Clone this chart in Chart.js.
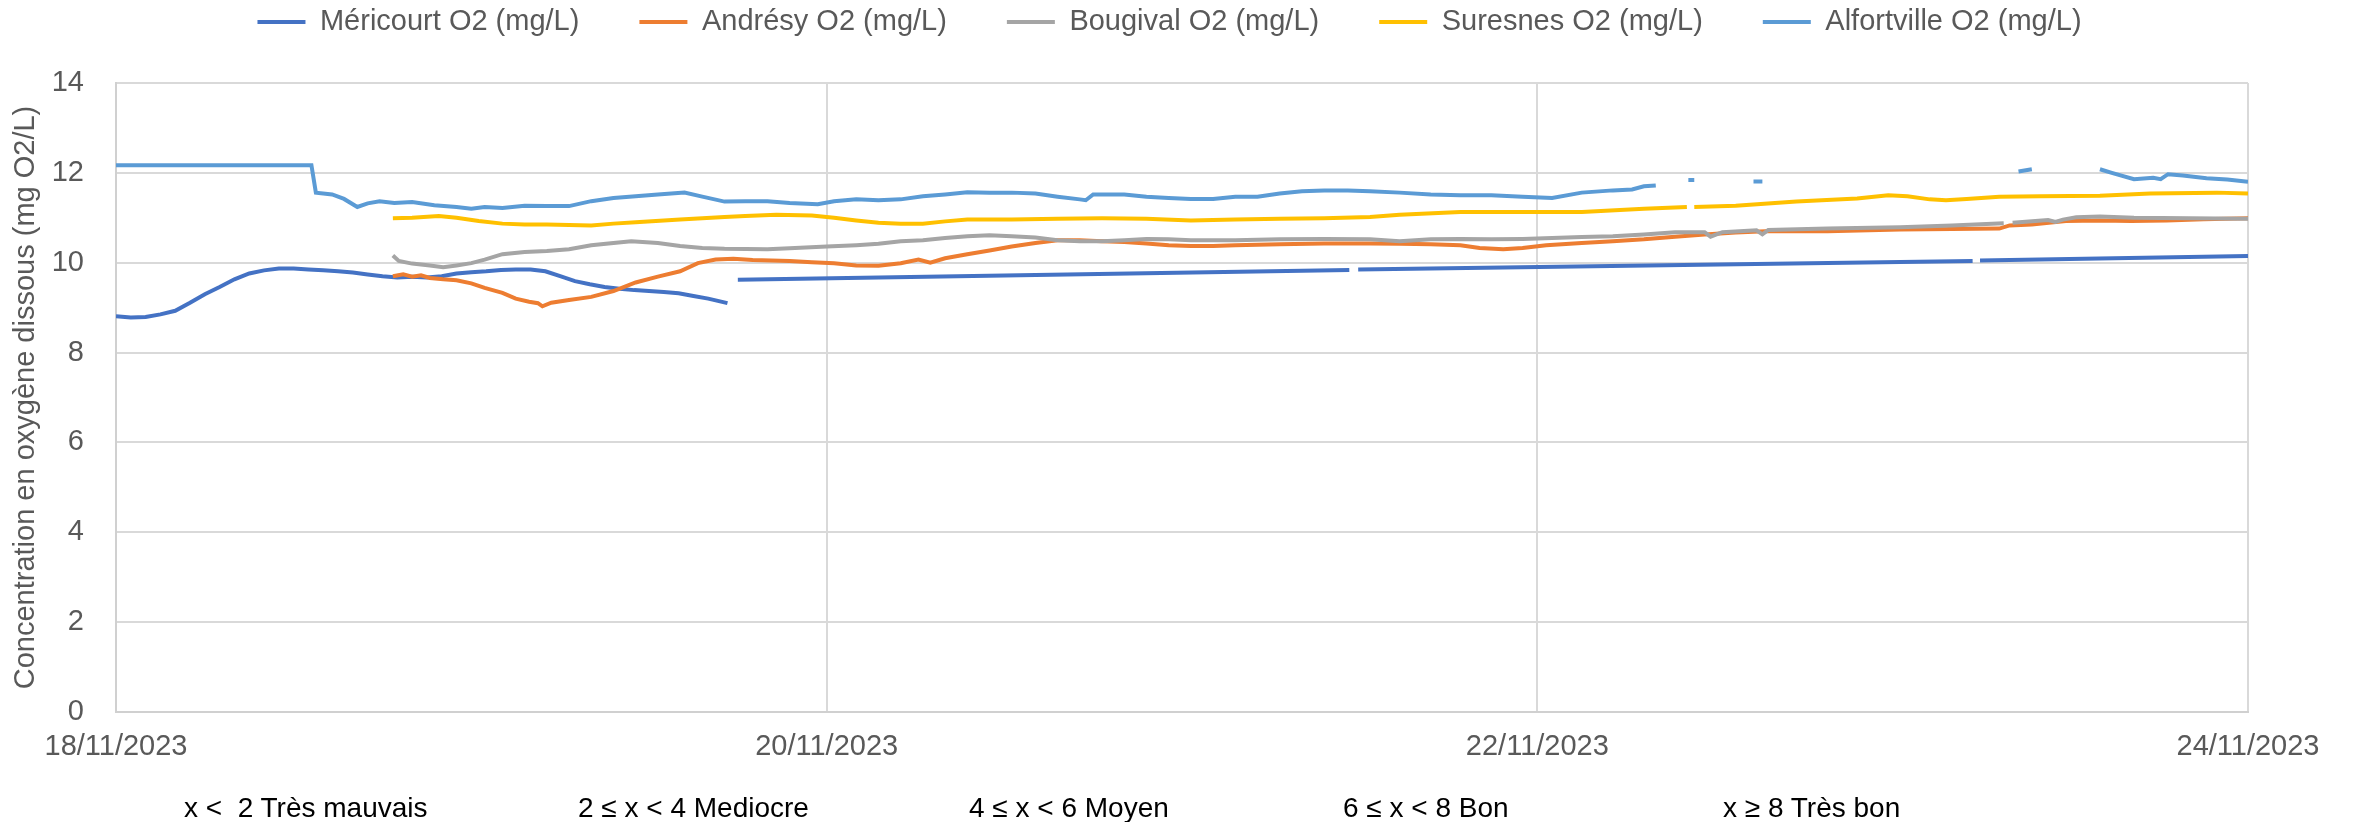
<!DOCTYPE html>
<html>
<head>
<meta charset="utf-8">
<script src="https://cdn.jsdelivr.net/npm/chart.js@4.4.0/dist/chart.umd.min.js"></script>
<style>
  html, body { margin: 0; padding: 0; background: #fff; }
  #wrap { position: relative; width: 2356px; height: 822px; }
  .classe { position: absolute; top: 794px; font: 28px 'Liberation Sans', Arial, sans-serif; line-height: 1; color: #000; white-space: pre; }
</style>
</head>
<body>
<div id="wrap">
  <canvas id="o2Chart" width="2356" height="822"></canvas>
  <span class="classe" style="left:184px">x &lt;  2 Très mauvais</span>
  <span class="classe" style="left:578px">2 ≤ x &lt; 4 Mediocre</span>
  <span class="classe" style="left:969px">4 ≤ x &lt; 6 Moyen</span>
  <span class="classe" style="left:1343px">6 ≤ x &lt; 8 Bon</span>
  <span class="classe" style="left:1723px">x ≥ 8 Très bon</span>
</div>
<script>
// x = heures depuis le 18/11/2023 00:00
const tickLabels = ['18/11/2023', '20/11/2023', '22/11/2023', '24/11/2023'];

const mericourtHours = [0, 1, 2, 3, 4, 5, 6, 7, 8, 9, 10, 11, 12, 13, 14, 15, 16, 17, 18, 19, 20,
  21, 22, 23, 24, 25, 26, 27, 28, 29, 30, 31, 32, 33, 34, 35, 36, 37, 38, 39, 40, 41.3,
  41.65, 42, 83.3, 83.6, 83.9, 125.4, 125.65, 125.9, 144];
const mericourtO2 = [8.81, 8.78, 8.79, 8.85, 8.93, 9.11, 9.30, 9.46, 9.63, 9.76, 9.83, 9.87, 9.87,
  9.85, 9.83, 9.81, 9.78, 9.74, 9.70, 9.67, 9.69, 9.67, 9.70, 9.76, 9.79, 9.81, 9.84, 9.85, 9.85,
  9.81, 9.70, 9.59, 9.52, 9.46, 9.42, 9.39, 9.37, 9.35, 9.32, 9.26, 9.20, 9.10,
  null, 9.62, 9.84, null, 9.85, 10.04, null, 10.05, 10.15];

const andresyHours = [18.7, 19.4, 20, 20.6, 21.2, 22.1, 23, 24, 24.9, 26.1, 27, 27.9, 28.5, 28.8,
  29.4, 30.6, 32.1, 33.6, 35.1, 36.6, 38.1, 39.3, 40.5, 41.7, 43, 45.5, 47, 48.5, 50, 51.5, 53,
  54.2, 55, 56, 57.5, 59, 60.5, 62.1, 63.6, 65.1, 66.6, 68.1, 69.6, 71.1, 72.6, 74.1, 75.6, 78.6,
  81.6, 84.7, 86.7, 88.8, 90.8, 92.1, 93.7, 95, 96.6, 99, 101.1, 103.2, 105.3, 107.3, 109.4,
  111.4, 115.6, 120.5, 124, 127.2, 127.9, 129.4, 131.7, 134, 136.1, 138.5, 141, 144];
const andresyO2 = [9.70, 9.74, 9.69, 9.72, 9.66, 9.63, 9.61, 9.54, 9.44, 9.33, 9.20, 9.13, 9.10,
  9.03, 9.11, 9.17, 9.24, 9.37, 9.56, 9.69, 9.81, 9.99, 10.07, 10.09, 10.06, 10.04, 10.01, 9.99,
  9.94, 9.93, 9.99, 10.07, 10.00, 10.10, 10.19, 10.27, 10.36, 10.44, 10.50, 10.50, 10.48, 10.46,
  10.43, 10.39, 10.37, 10.37, 10.39, 10.41, 10.43, 10.43, 10.42, 10.41, 10.39, 10.33, 10.30,
  10.33, 10.39, 10.44, 10.48, 10.52, 10.58, 10.63, 10.67, 10.70, 10.70, 10.74, 10.75, 10.76,
  10.83, 10.85, 10.93, 10.94, 10.93, 10.94, 10.97, 10.99];

const bougivalHours = [18.7, 19.1, 20, 21.2, 22.1, 23, 24, 24.9, 26.1, 27.6, 29.1, 30.6, 32.1, 33.6,
  34.8, 36.6, 38.1, 39.6, 41.1, 44, 45.5, 48, 50, 51.5, 53, 54.5, 56, 57.5, 59, 60.5, 62.1, 63.6,
  65.1, 66.6, 68.1, 69.6, 71.1, 72.6, 75.6, 78.6, 81.6, 84.7, 86.7, 88.8, 90.8, 92.9, 95, 97, 99,
  101.1, 103.2, 105.3, 107.3, 107.7, 108.5, 110.8, 111.2, 111.6, 115.6, 120.5, 124, 127.5,
  127.8, 128.1, 130.5, 131, 131.5, 132.4, 134, 136.3, 140, 144];
const bougivalO2 = [10.16, 10.04, 9.98, 9.94, 9.90, 9.94, 9.99, 10.07, 10.19, 10.24, 10.26, 10.30,
  10.39, 10.44, 10.48, 10.44, 10.37, 10.33, 10.31, 10.30, 10.32, 10.36, 10.39, 10.42, 10.48,
  10.50, 10.55, 10.59, 10.61, 10.59, 10.56, 10.50, 10.48, 10.48, 10.50, 10.53, 10.52, 10.50,
  10.50, 10.52, 10.53, 10.52, 10.48, 10.52, 10.53, 10.52, 10.53, 10.55, 10.57, 10.59, 10.63,
  10.68, 10.68, 10.58, 10.68, 10.72, 10.63, 10.73, 10.76, 10.79, 10.83, 10.88,
  null, 10.89, 10.95, 10.91, 10.96, 11.01, 11.03, 11.00, 10.99, 10.98];

const suresnesHours = [18.7, 20, 21.8, 23, 24.5, 26.1, 27.6, 29.1, 30.6, 32.1, 33.6, 35.1, 38.1,
  41.1, 42.5, 44.6, 47, 48.5, 50, 51.5, 53, 54.5, 56, 57.5, 60.5, 63.6, 66.6, 69.6, 72.6, 75.6,
  78.6, 81.6, 84.7, 86.7, 90.8, 95, 99, 103.2, 106.1, 106.35, 106.6, 109.4, 113.5, 117.6, 119.7,
  121, 122.5, 123.6, 125, 127.2, 130, 134, 137.4, 141.9, 144];
const suresnesO2 = [10.99, 11.00, 11.04, 11.00, 10.93, 10.87, 10.85, 10.85, 10.84, 10.83, 10.87,
  10.90, 10.96, 11.02, 11.04, 11.07, 11.05, 11.00, 10.94, 10.89, 10.87, 10.87, 10.92, 10.96,
  10.96, 10.98, 10.99, 10.98, 10.94, 10.96, 10.98, 10.99, 11.02, 11.07, 11.13, 11.13, 11.13,
  11.20, 11.24, null, 11.24, 11.27, 11.36, 11.43, 11.50, 11.48, 11.41, 11.39, 11.42, 11.47,
  11.48, 11.49, 11.54, 11.56, 11.54];

const alfortvilleHours = [0, 13.2, 13.5, 14.6, 15.4, 16.3, 17, 17.8, 18.8, 20, 21.5, 23, 24, 24.9,
  26.1, 27.6, 29.1, 30.6, 32.1, 33.6, 35.1, 36.6, 38.4, 39.6, 41.1, 42.5, 44, 45.5, 47.4, 48.5,
  50, 51.5, 53, 54.5, 56, 57.5, 59, 60.5, 62.1, 63.6, 65.1, 65.5, 66, 68.1, 69.6, 71.1, 72.6,
  74.1, 75.6, 77.1, 78.6, 80.1, 81.6, 83.2, 84.7, 86.7, 88.8, 90.8, 92.9, 95, 97, 99, 101.1,
  102.4, 103.2, 104, 105, 106.2, 106.6, 108, 110.6, 111.2, 120, 128.5, 129.4, 131, 134, 134.8,
  136.3, 137.6, 138.1, 138.6, 139.6, 141.2, 142.6, 144];
const alfortvilleO2 = [12.17, 12.17, 11.56, 11.52, 11.42, 11.24, 11.32, 11.37, 11.33, 11.35, 11.28,
  11.24, 11.20, 11.24, 11.22, 11.27, 11.26, 11.26, 11.37, 11.44, 11.48, 11.52, 11.56, 11.47,
  11.36, 11.37, 11.37, 11.33, 11.30, 11.37, 11.41, 11.39, 11.41, 11.48, 11.52, 11.57, 11.56,
  11.56, 11.54, 11.47, 11.41, 11.39, 11.52, 11.52, 11.47, 11.44, 11.42, 11.42, 11.47, 11.47,
  11.54, 11.59, 11.61, 11.61, 11.59, 11.56, 11.52, 11.50, 11.50, 11.47, 11.44, 11.56, 11.61,
  11.63, 11.70, 11.72, null, 11.84, 11.84, null, 11.81, 11.81, null, 12.03, 12.08, null,
  12.08, 12.00, 11.86, 11.89, 11.86, 11.97, 11.94, 11.88, 11.85, 11.80];

const toPoints = (hours, values) => hours.map((h, i) => ({ x: h, y: values[i] }));

Chart.defaults.font.family = "'Liberation Sans', Arial, sans-serif";
Chart.defaults.font.size = 29;
Chart.defaults.color = '#595959';

// espace entre la légende et le graphique
const legendGap = {
  id: 'legendGap',
  beforeInit(chart) {
    const fitLegend = chart.legend.fit;
    chart.legend.fit = function () {
      fitLegend.call(this);
      this.height += 36.5;
    };
  }
};

const makeSeries = (label, hours, values, color, order) => ({
  label: label,
  data: toPoints(hours, values),
  borderColor: color,
  backgroundColor: color,
  borderWidth: 4,
  pointRadius: 0,
  tension: 0,
  order: order,
});

const o2Chart = new Chart(document.getElementById('o2Chart'), {
  type: 'line',
  data: {
    datasets: [
      makeSeries('Méricourt O2 (mg/L)', mericourtHours, mericourtO2, '#4472C4', 5),
      makeSeries('Andrésy O2 (mg/L)', andresyHours, andresyO2, '#ED7D31', 4),
      makeSeries('Bougival O2 (mg/L)', bougivalHours, bougivalO2, '#A5A5A5', 3),
      makeSeries('Suresnes O2 (mg/L)', suresnesHours, suresnesO2, '#FFC000', 2),
      makeSeries('Alfortville O2 (mg/L)', alfortvilleHours, alfortvilleO2, '#5B9BD5', 1),
    ],
  },
  options: {
    responsive: false,
    animation: false,
    devicePixelRatio: 1,
    spanGaps: false,
    layout: { padding: { top: -52.5, left: 6, right: 23, bottom: 57.6 } },
    plugins: {
      tooltip: { enabled: false },
      legend: {
        position: 'top',
        labels: {
          usePointStyle: true,
          pointStyle: 'line',
          pointStyleWidth: 48,
          padding: 60,
          color: '#595959',
          sort: (a, b) => a.datasetIndex - b.datasetIndex,
        },
      },
    },
    scales: {
      x: {
        type: 'linear',
        min: 0,
        max: 144,
        afterFit: (scale) => {
          scale.height = 52.4;
          scale.paddingRight = 108;
        },
        ticks: {
          stepSize: 48,
          padding: 17.6,
          maxRotation: 0,
          autoSkip: false,
          callback: (value) => tickLabels[value / 48],
        },
        grid: { color: '#D9D9D9', lineWidth: 2, drawTicks: false },
        border: { color: '#D0D0D0', width: 2 },
      },
      y: {
        min: 0,
        max: 14,
        afterFit: (scale) => { scale.width = 110; },
        ticks: { stepSize: 2, padding: 32 },
        grid: { color: '#D9D9D9', lineWidth: 2, drawTicks: false },
        border: { color: '#D0D0D0', width: 2 },
        title: {
          display: true,
          text: 'Concentration en oxygène dissous (mg O2/L)',
          color: '#595959',
          padding: { top: 3, bottom: 8 },
        },
      },
    },
  },
  plugins: [legendGap],
});
</script>
</body>
</html>
